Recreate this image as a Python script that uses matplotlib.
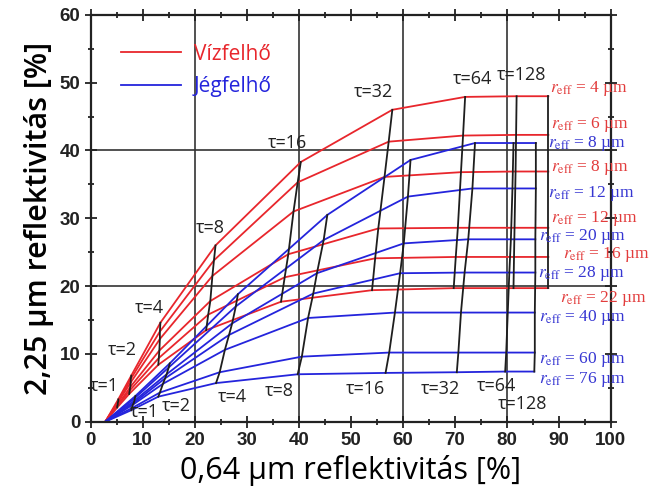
import matplotlib
matplotlib.use("Agg")
import matplotlib.pyplot as plt
from matplotlib.ticker import MultipleLocator

plt.rcParams['mathtext.fontset'] = 'stix'

# water cloud (red): rows = r_eff, columns = tau 0, 1, 2, 4, 8, 16, 32, 64, 128, end
water_reff = [4, 6, 8, 12, 16, 22]
water_x = [
    [2.8, 5.3, 7.8, 13.4, 24.0, 40.4, 58.0, 72.0, 81.9, 88.0],
    [2.8, 5.3, 7.7, 13.3, 23.7, 39.8, 57.3, 71.6, 81.8, 88.0],
    [2.8, 5.2, 7.7, 13.3, 23.4, 39.0, 56.5, 71.2, 81.7, 88.0],
    [2.8, 5.2, 7.6, 13.2, 23.0, 38.0, 55.3, 70.6, 81.5, 88.0],
    [2.8, 5.1, 7.5, 13.1, 22.6, 37.3, 54.7, 70.2, 81.4, 88.0],
    [2.8, 5.1, 7.4, 13.0, 22.2, 36.6, 54.1, 69.8, 81.3, 88.0],
]
water_y = [
    [0, 3.3, 6.8, 14.6, 26.0, 38.3, 46.0, 47.9, 48.0, 48.0],
    [0, 3.0, 6.3, 13.3, 23.8, 35.3, 41.3, 42.2, 42.3, 42.3],
    [0, 2.8, 5.8, 12.2, 21.5, 31.0, 36.1, 36.8, 36.9, 36.9],
    [0, 2.5, 5.1, 10.5, 17.8, 24.7, 28.5, 28.6, 28.6, 28.6],
    [0, 2.3, 4.6, 9.4, 15.8, 21.3, 24.1, 24.3, 24.3, 24.3],
    [0, 2.1, 4.1, 8.4, 13.5, 17.7, 19.4, 19.7, 19.7, 19.7],
]

# ice cloud (blue): rows = r_eff, columns = tau 0, 1, 2, 4, 8, 16, 32, 64, 128
ice_reff = [8, 12, 20, 28, 40, 60, 76]
ice_x = [
    [2.8, 8.6, 15.2, 28.3, 45.5, 61.5, 73.9, 81.3, 85.6],
    [2.8, 8.5, 15.0, 27.9, 44.8, 61.0, 73.4, 81.1, 85.6],
    [2.8, 8.4, 14.6, 27.2, 43.5, 60.2, 72.6, 80.8, 85.5],
    [2.8, 8.3, 14.3, 26.6, 42.8, 59.5, 71.9, 80.5, 85.5],
    [2.8, 8.1, 13.9, 25.8, 41.8, 58.5, 71.2, 80.2, 85.4],
    [2.8, 7.9, 13.3, 24.8, 40.6, 57.4, 70.7, 79.9, 85.4],
    [2.8, 7.8, 13.0, 24.1, 39.8, 56.7, 70.4, 79.7, 85.3],
]
ice_y = [
    [0, 3.8, 8.6, 18.8, 30.5, 38.6, 41.1, 41.1, 41.1],
    [0, 3.5, 8.0, 17.0, 26.8, 33.2, 34.4, 34.4, 34.4],
    [0, 3.1, 7.0, 14.5, 21.9, 26.3, 26.9, 26.9, 26.9],
    [0, 2.8, 6.4, 12.8, 18.9, 21.9, 22.0, 22.0, 22.0],
    [0, 2.5, 5.6, 10.6, 15.3, 16.1, 16.1, 16.1, 16.1],
    [0, 2.0, 4.3, 7.3, 9.6, 10.2, 10.2, 10.2, 10.2],
    [0, 1.7, 3.7, 5.7, 7.0, 7.2, 7.3, 7.4, 7.4],
]

tau_values = [1, 2, 4, 8, 16, 32, 64, 128]

# label anchors (data coords)
water_tau_pos = [(2.7, 5.2), (6.1, 10.6), (11.2, 16.7), (23.0, 28.6),
                 (37.8, 41.1), (54.3, 48.6), (73.5, 50.5), (82.8, 51.1)]
ice_tau_pos = [(10.4, 1.4), (16.5, 2.3), (27.2, 3.6), (36.3, 4.6),
               (52.9, 4.8), (67.2, 4.8), (78.1, 5.3), (83.1, 2.6)]
water_reff_pos = [(88.3, 49.2), (88.6, 43.9), (88.6, 37.5), (88.6, 30.0), (90.8, 24.6), (90.2, 18.2)]
ice_reff_pos = [(88.0, 41.1), (88.0, 33.7), (86.3, 27.3), (86.1, 21.8), (86.3, 15.3), (86.3, 9.2), (86.3, 6.3)]

RED = '#e8262c'
BLUE = '#2424dc'
RED_TXT = '#e23c3c'
BLUE_TXT = '#3636d2'
TAU_C = '#1e1e1e'

fig = plt.figure(figsize=(6.65, 4.95), dpi=100)
ax = fig.add_axes([0.1364, 0.148, 0.782, 0.822])

# grid lines
for gx in [20, 40, 60, 80]:
    ax.axvline(gx, color='#333333', lw=1.2, zorder=1)
for gy in [20, 40]:
    ax.axhline(gy, color='#333333', lw=1.2, zorder=1)

# constant r_eff curves
for i in range(len(water_reff)):
    ax.plot(water_x[i], water_y[i], color=RED, lw=1.3, zorder=3,
            label='Vízfelhő' if i == 0 else None)
for i in range(len(ice_reff)):
    ax.plot(ice_x[i], ice_y[i], color=BLUE, lw=1.3, zorder=3,
            label='Jégfelhő' if i == 0 else None)

# constant tau lines
for j in range(1, len(water_x[0])):
    ax.plot([r[j] for r in water_x], [r[j] for r in water_y], color=TAU_C, lw=1.3, zorder=4)
for j in range(1, len(ice_x[0])):
    ax.plot([r[j] for r in ice_x], [r[j] for r in ice_y], color=TAU_C, lw=1.3, zorder=4)

# tau labels
for t, (px, py) in zip(tau_values, water_tau_pos):
    ax.text(px, py, 'τ=%d' % t, fontsize=13, family=['Open Sans', 'DejaVu Sans'],
            color='#222222', ha='center', va='center', zorder=6)
for t, (px, py) in zip(tau_values, ice_tau_pos):
    ax.text(px, py, 'τ=%d' % t, fontsize=13, family=['Open Sans', 'DejaVu Sans'],
            color='#222222', ha='center', va='center', zorder=6)

# r_eff labels
for r, (px, py) in zip(water_reff, water_reff_pos):
    ax.text(px, py, r'$r_{\mathrm{eff}}$ = %d µm' % r, fontsize=12.5,
            family='Liberation Serif', color=RED_TXT, ha='left', va='center',
            zorder=6, clip_on=False)
for r, (px, py) in zip(ice_reff, ice_reff_pos):
    ax.text(px, py, r'$r_{\mathrm{eff}}$ = %d µm' % r, fontsize=12.5,
            family='Liberation Serif', color=BLUE_TXT, ha='left', va='center',
            zorder=6, clip_on=False)

leg = ax.legend(loc='upper left', bbox_to_anchor=(0.022, 0.975), frameon=False,
                handlelength=2.9, handletextpad=0.6, labelspacing=0.55,
                prop={'family': 'Open Sans', 'size': 15}, labelcolor='linecolor')

ax.set_xlim(0, 100)
ax.set_ylim(0, 60)
ax.xaxis.set_major_locator(MultipleLocator(10))
ax.xaxis.set_minor_locator(MultipleLocator(5))
ax.yaxis.set_major_locator(MultipleLocator(10))
ax.yaxis.set_minor_locator(MultipleLocator(5))
ax.tick_params(which='both', direction='inout', top=True, right=True, width=1.3, color='#222222')
ax.tick_params(which='major', length=8)
ax.tick_params(which='minor', length=5)
for lab in ax.get_xticklabels() + ax.get_yticklabels():
    lab.set_family(['Liberation Sans Narrow', 'Liberation Sans'])
    lab.set_fontweight('bold')
    lab.set_fontsize(13.5)
    lab.set_color('#222222')
for sp in ax.spines.values():
    sp.set_linewidth(1.6)
    sp.set_color('#222222')
    sp.set_zorder(5)

ax.set_xlabel('0,64 µm reflektivitás [%]', fontsize=22, family='Open Sans', labelpad=4)
ax.set_ylabel('2,25 µm reflektivitás [%]', fontsize=22, family='Open Sans',
              fontweight='semibold', labelpad=4)

fig.savefig('out.png', dpi=100)
